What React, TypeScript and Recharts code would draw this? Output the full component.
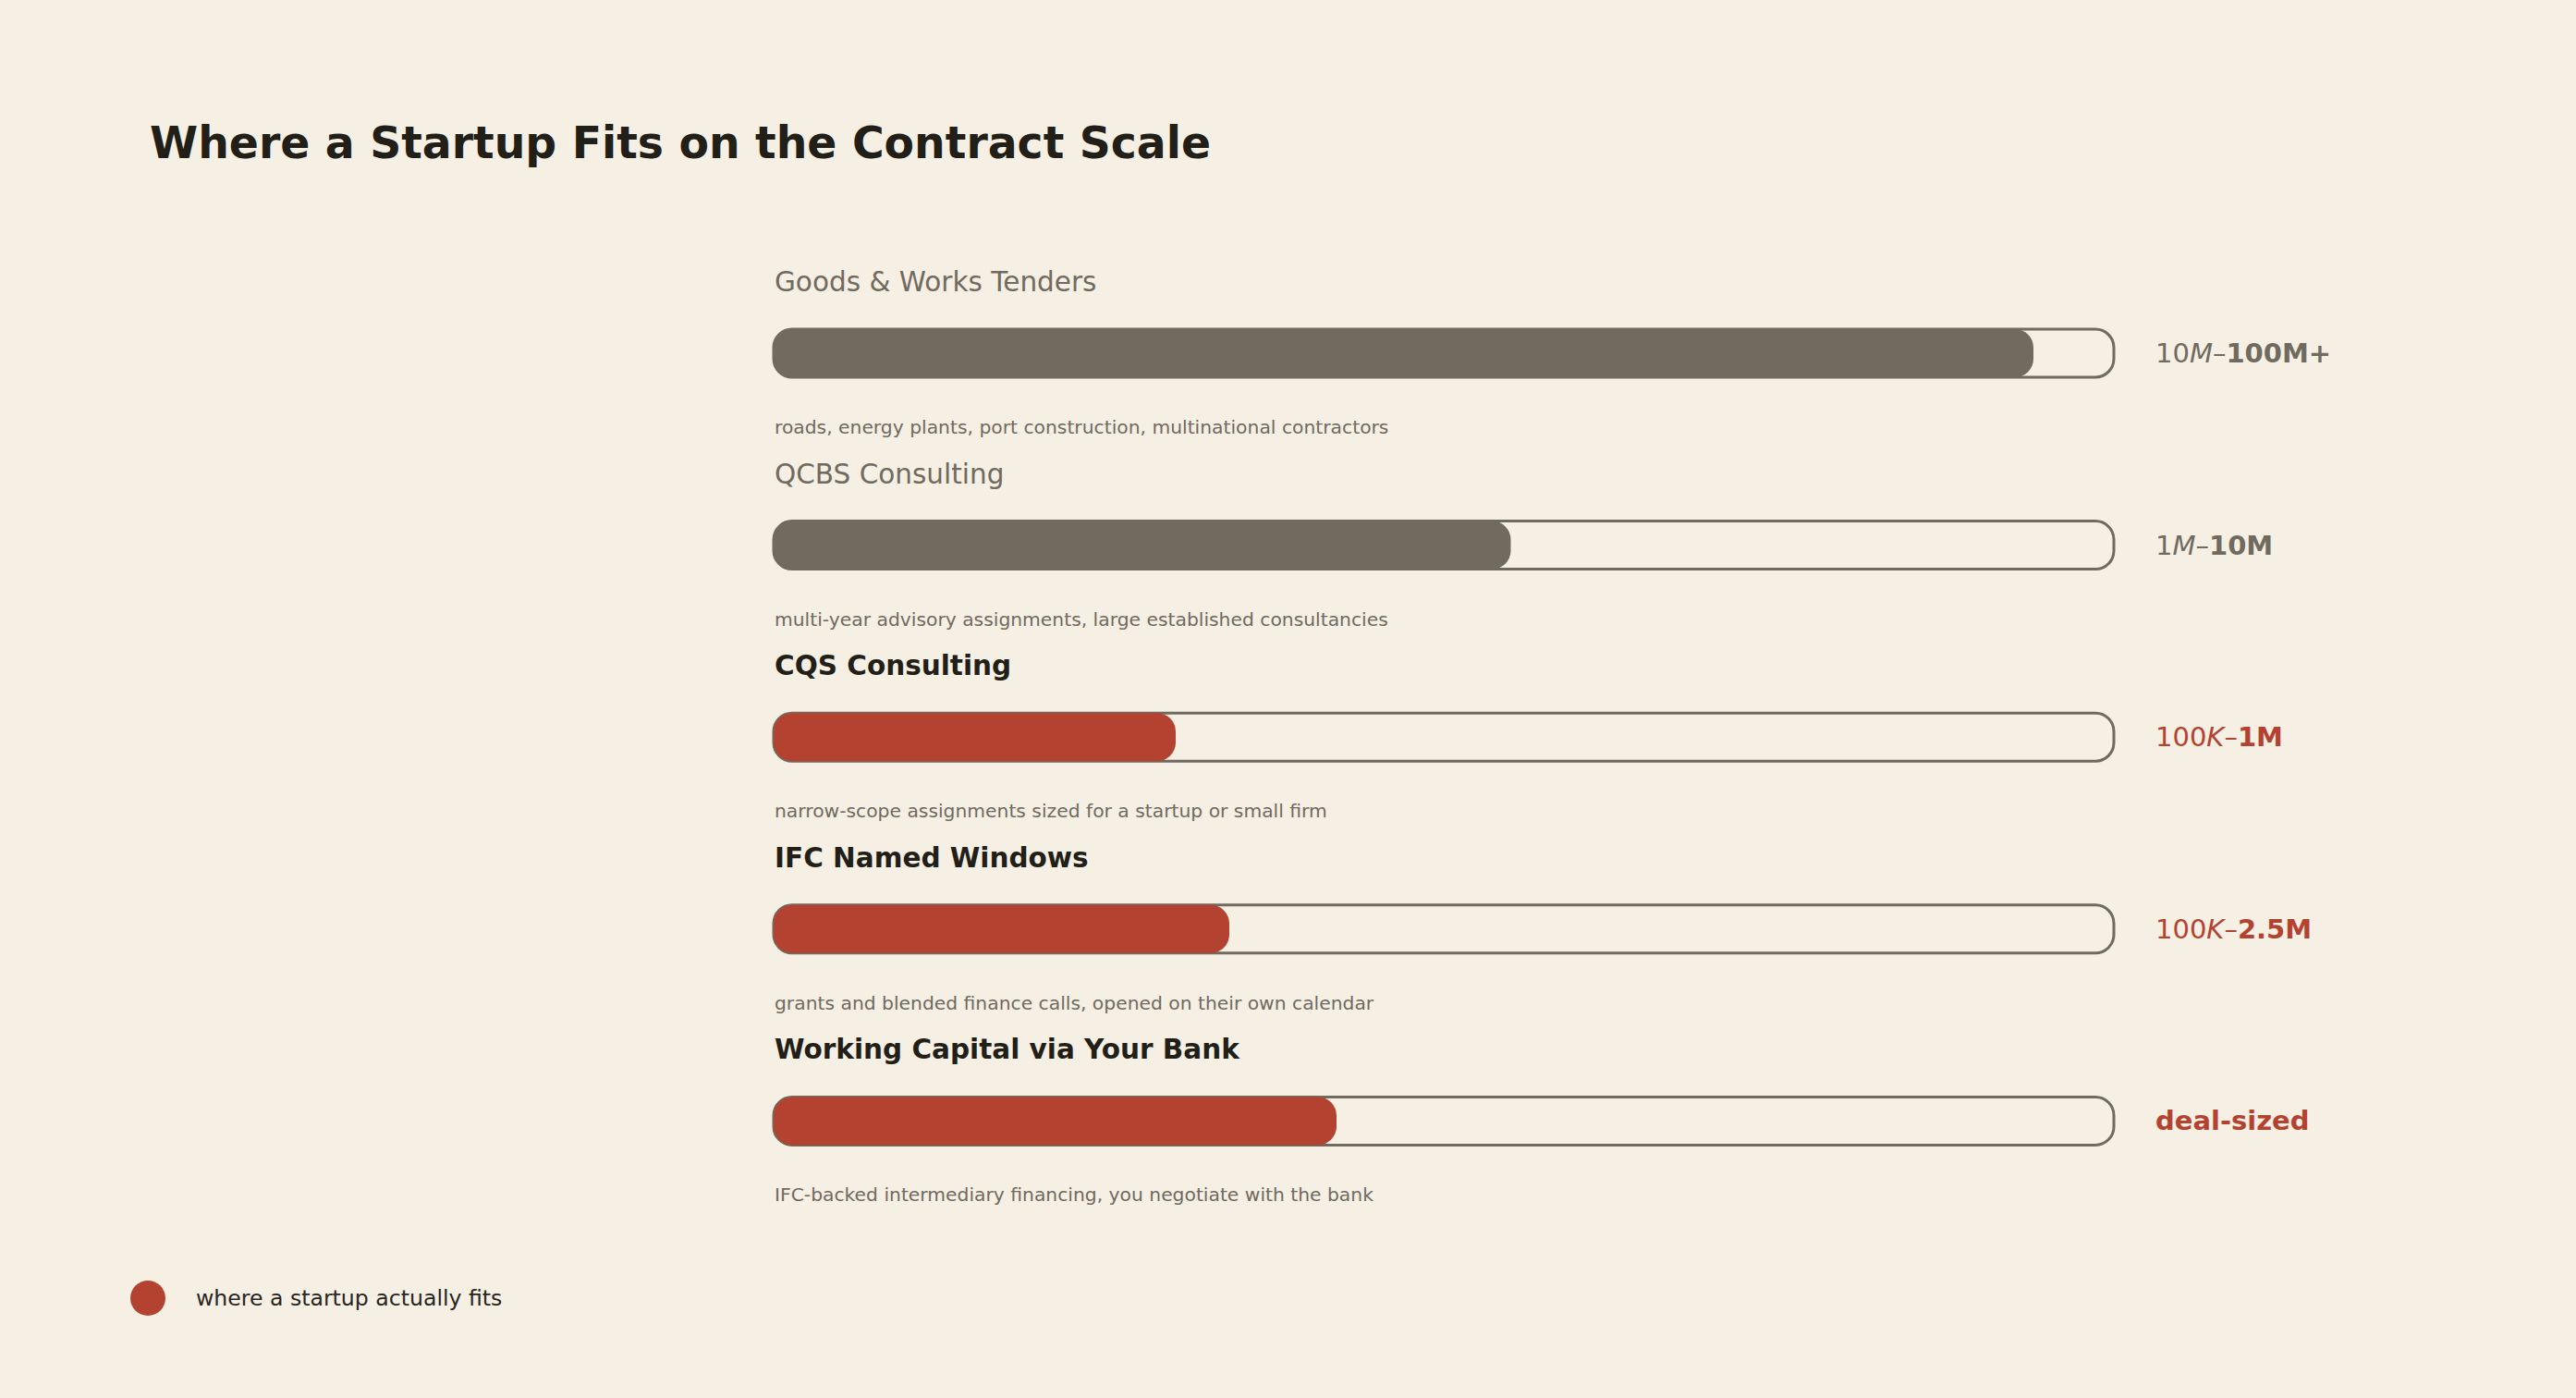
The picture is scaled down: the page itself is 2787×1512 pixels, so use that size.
import React from 'react'
import { BarChart, Bar, XAxis, YAxis, LabelList, Legend } from 'recharts'

const categories = [
  'Goods & Works Tenders',
  'QCBS Consulting',
  'CQS Consulting',
  'IFC Named Windows',
  'Working Capital via Your Bank',
]
const descriptions = [
  'roads, energy plants, port construction, multinational contractors',
  'multi-year advisory assignments, large established consultancies',
  'narrow-scope assignments sized for a startup or small firm',
  'grants and blended finance calls, opened on their own calendar',
  'IFC-backed intermediary financing, you negotiate with the bank',
]
const fillShare = [0.94, 0.55, 0.3, 0.34, 0.42]
const rangeLow = ['10', '1', '100', '100', '']
const rangeUnit = ['M', 'M', 'K', 'K', '']
const rangeHigh = ['100M+', '10M', '1M', '2.5M', 'deal-sized']
const startupFit = [false, false, true, true, true]

const W = 2787
const H = 1512
const LEGEND_H = 38
const MARGIN = { top: 278, right: 500, bottom: 196 - LEGEND_H, left: 837 }
const BG = '#f5efe4'
const GRAY = '#706a5f'
const RED = '#b34330'
const INK = '#221e18'
const FONT = '"DejaVu Sans", sans-serif'

const data = categories.map((name, i) => ({
  name,
  share: fillShare[i],
  fill: startupFit[i] ? RED : GRAY,
}))

function RowText(props: any) {
  const vb = props.viewBox || {}
  const x = vb.x ?? props.x
  const y = vb.y ?? props.y
  const h = vb.height ?? props.height
  const i = categories.indexOf(props.value)
  if (i < 0) return null
  const cy = y + h / 2
  const fit = startupFit[i]
  const color = fit ? RED : GRAY
  const valueX = W - MARGIN.right + 45
  return (
    <g>
      <text
        x={x + 1}
        y={cy - 67}
        fontFamily={FONT}
        fontSize={29.5}
        fontWeight={fit ? 'bold' : 'normal'}
        fill={fit ? INK : GRAY}
      >
        {categories[i]}
      </text>
      <text x={x + 1} y={cy + 87} fontFamily={FONT} fontSize={20.3} fill={GRAY}>
        {descriptions[i]}
      </text>
      <text x={valueX} y={cy} dominantBaseline="central" fontFamily={FONT} fontSize={29} fill={color}>
        {rangeLow[i] && <tspan>{rangeLow[i]}</tspan>}
        {rangeUnit[i] && <tspan fontStyle="italic">{rangeUnit[i]}</tspan>}
        {rangeLow[i] && <tspan>–</tspan>}
        <tspan fontWeight="bold">{rangeHigh[i]}</tspan>
      </text>
    </g>
  )
}

function FitLegend() {
  return (
    <div style={{ display: 'flex', alignItems: 'center', fontFamily: FONT, height: LEGEND_H }}>
      <span
        style={{ width: 38, height: 38, borderRadius: 19, background: RED, display: 'inline-block' }}
      />
      <span style={{ marginLeft: 33, fontSize: 23.6, color: '#2a251f' }}>where a startup actually fits</span>
    </div>
  )
}

export default function App() {
  return (
    <div style={{ position: 'absolute', left: 0, top: 0, width: W, height: H, background: BG }}>
      <div
        style={{
          position: 'absolute',
          left: 162,
          top: 127,
          fontFamily: FONT,
          fontWeight: 'bold',
          fontSize: 47.3,
          color: INK,
          whiteSpace: 'nowrap',
        }}
      >
        Where a Startup Fits on the Contract Scale
      </div>
      <BarChart width={W} height={H} data={data} layout="vertical" margin={MARGIN} barSize={52}>
        <XAxis type="number" domain={[0, 1]} hide />
        <YAxis type="category" dataKey="name" hide />
        <Legend
          content={() => <FitLegend />}
          wrapperStyle={{ position: 'absolute', left: 141, top: 1385, width: 'auto', bottom: 'auto' }}
        />
        <Bar
          dataKey="share"
          radius={20}
          isAnimationActive={false}
          background={{ fill: BG, stroke: GRAY, strokeWidth: 3, radius: 20 }}
        >
          <LabelList dataKey="name" content={RowText} />
        </Bar>
      </BarChart>
    </div>
  )
}
